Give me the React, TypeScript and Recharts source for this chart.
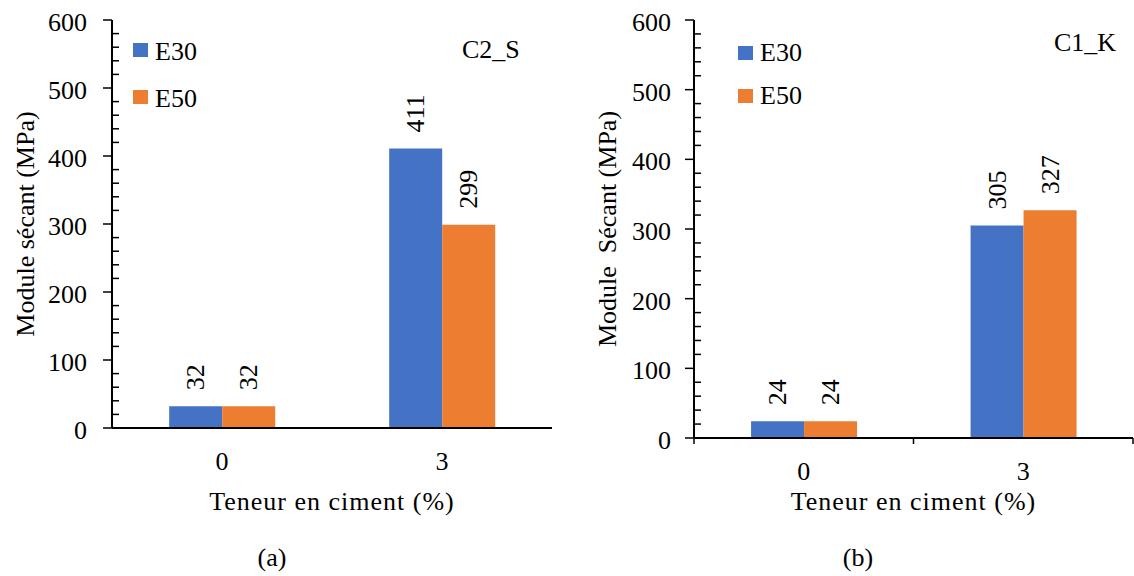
import React from 'react';
import {
  BarChart,
  Bar,
  XAxis,
  YAxis,
  Legend,
  LabelList,
} from 'recharts';

// categories on the x axis (cement content, %)
const categories = ['0', '3'];

// (a) C2_S
const c2sE30 = [32, 411];
const c2sE50 = [32, 299];

// (b) C1_K
const c1kE30 = [24, 305];
const c1kE50 = [24, 327];

const yTicks = [0, 20, 40, 60, 80, 100, 120, 140, 160, 180, 200, 220, 240, 260, 280, 300,
  320, 340, 360, 380, 400, 420, 440, 460, 480, 500, 520, 540, 560, 580, 600];

const BLUE = '#4472C4';
const ORANGE = '#ED7D31';
const FONT = "'Liberation Serif', 'Times New Roman', serif";
const FS = 26;
const H = 576;
const TOP = 20;
const X_TICK_MARGIN = 24;

const buildData = (e30: number[], e50: number[]) =>
  categories.map((cat, i) => ({ cat, E30: e30[i], E50: e50[i] }));

// rotated value label above each bar
const RotLabel = (props: any) => {
  const { x, y, width, value } = props;
  const cx = Number(x) + Number(width) / 2;
  const ty = Number(y) - 16;
  return (
    <text
      x={cx}
      y={ty}
      transform={`rotate(-90 ${cx} ${ty})`}
      textAnchor="start"
      dominantBaseline="central"
      fontSize={FS}
      fontFamily={FONT}
      fill="#000"
    >
      {value}
    </text>
  );
};

// major ticks outside with label, minor ticks inside
const makeYTick = (gap: number) => (props: any) => {
  const { x, y, payload } = props;
  const axisX = x + 9 + gap;
  if (payload.value % 100 !== 0) {
    return <line x1={axisX} x2={axisX + 7} y1={y} y2={y} stroke="#000" strokeWidth={1.5} />;
  }
  return (
    <g>
      <line x1={axisX - 9} x2={axisX} y1={y} y2={y} stroke="#000" strokeWidth={1.5} />
      <text x={x} y={y} dy={11} textAnchor="end" fontSize={FS} fontFamily={FONT} fill="#000">
        {payload.value}
      </text>
    </g>
  );
};

const makeXTick = (marks: boolean, band: number) => (props: any) => {
  const { x, y, payload, index } = props;
  const axisY = y - X_TICK_MARGIN;
  return (
    <g>
      {marks && (
        <line x1={x - band / 2} x2={x - band / 2} y1={axisY} y2={axisY + 6} stroke="#000" strokeWidth={1.5} />
      )}
      {marks && index === categories.length - 1 && (
        <line x1={x + band / 2} x2={x + band / 2} y1={axisY} y2={axisY + 6} stroke="#000" strokeWidth={1.5} />
      )}
      <text x={x} y={y} dy={18} textAnchor="middle" fontSize={FS} fontFamily={FONT} fill="#000">
        {payload.value}
      </text>
    </g>
  );
};

const makeLegend = (rowH: number, textTop: number) => (props: any) => {
  const { payload } = props;
  return (
    <div style={{ fontFamily: FONT, fontSize: FS }}>
      {(payload || []).map((p: any) => (
        <div key={p.value} style={{ position: 'relative', height: rowH, width: 80 }}>
          <span style={{ position: 'absolute', left: 0, top: 0, width: 15, height: 14, background: p.color }} />
          <span style={{ position: 'absolute', left: 22, top: textTop, lineHeight: '26px', color: '#000' }}>
            {p.value}
          </span>
        </div>
      ))}
    </div>
  );
};

interface PanelProps {
  left: number;
  width: number;
  yAxisWidth: number;
  marginRight: number;
  plotBottom: number;
  e30: number[];
  e50: number[];
  yLabel: string;
  yLabelDx: number;
  yTickGap: number;
  xTickMarks: boolean;
  legendLeft: number;
  legendTop: number;
  legendRow: number;
  legendTextTop: number;
  tag: string;
  tagLeft: number;
  tagBaseline: number;
  caption: string;
  captionCenter: number;
}

const Panel = (p: PanelProps) => {
  const data = buildData(p.e30, p.e50);
  const plotW = p.width - p.yAxisWidth - p.marginRight;
  const band = plotW / categories.length;
  const axisStyle = { stroke: '#000', strokeWidth: 2 };
  return (
    <div style={{ position: 'absolute', left: p.left, top: 0, width: p.width, height: H }}>
      <BarChart
        width={p.width}
        height={H}
        data={data}
        margin={{ top: TOP, right: p.marginRight, bottom: 0, left: 0 }}
        barCategoryGap="26%"
        barGap={0}
      >
        <XAxis
          dataKey="cat"
          height={H - p.plotBottom}
          axisLine={axisStyle}
          tickLine={false}
          tickSize={0}
          tickMargin={X_TICK_MARGIN}
          interval={0}
          tick={makeXTick(p.xTickMarks, band)}
          label={{
            value: 'Teneur en ciment (%)',
            position: 'insideBottom',
            offset: H - 510,
            fontSize: FS,
            fontFamily: FONT,
            letterSpacing: 1,
            fill: '#000',
          }}
        />
        <XAxis xAxisId="top" dataKey="cat" orientation="top" height={0} tick={false} tickLine={false} axisLine={axisStyle} />
        <YAxis
          width={p.yAxisWidth}
          domain={[0, 600]}
          ticks={yTicks}
          interval={0}
          axisLine={axisStyle}
          tickLine={false}
          tickSize={9}
          tickMargin={p.yTickGap}
          tick={makeYTick(p.yTickGap)}
          label={{
            value: p.yLabel,
            angle: -90,
            position: 'center',
            dx: p.yLabelDx,
            fontSize: FS,
            fontFamily: FONT,
            fill: '#000',
          }}
        />
        <YAxis yAxisId="right" orientation="right" width={0} domain={[0, 600]} tick={false} tickLine={false} axisLine={axisStyle} />
        <Legend
          layout="vertical"
          align="center"
          verticalAlign="middle"
          wrapperStyle={{ left: p.legendLeft, top: p.legendTop, width: 'auto' }}
          content={makeLegend(p.legendRow, p.legendTextTop)}
        />
        <Bar dataKey="E30" name="E30" fill={BLUE} isAnimationActive={false}>
          <LabelList dataKey="E30" content={RotLabel} />
        </Bar>
        <Bar dataKey="E50" name="E50" fill={ORANGE} isAnimationActive={false}>
          <LabelList dataKey="E50" content={RotLabel} />
        </Bar>
      </BarChart>
      <div
        style={{
          position: 'absolute',
          left: p.tagLeft,
          top: p.tagBaseline - 21.8,
          fontFamily: FONT,
          fontSize: FS,
          lineHeight: '26px',
          color: '#000',
          whiteSpace: 'nowrap',
        }}
      >
        {p.tag}
      </div>
      <div
        style={{
          position: 'absolute',
          left: p.captionCenter - 40,
          width: 80,
          textAlign: 'center',
          top: 567 - 21.8,
          fontFamily: FONT,
          fontSize: FS,
          lineHeight: '26px',
          color: '#000',
        }}
      >
        {p.caption}
      </div>
    </div>
  );
};

export default function App() {
  return (
    <div style={{ position: 'absolute', left: 0, top: 0, width: 1134, height: H, background: '#fff' }}>
      <Panel
        left={0}
        width={560}
        yAxisWidth={112}
        marginRight={8}
        plotBottom={428}
        e30={c2sE30}
        e50={c2sE50}
        yLabel="Module sécant (MPa)"
        yLabelDx={-31}
        yTickGap={16}
        xTickMarks={false}
        legendLeft={133}
        legendTop={43}
        legendRow={47}
        legendTextTop={-4}
        tag="C2_S"
        tagLeft={462}
        tagBaseline={59}
        caption="(a)"
        captionCenter={272}
      />
      <Panel
        left={580}
        width={554}
        yAxisWidth={114}
        marginRight={1}
        plotBottom={438}
        e30={c1kE30}
        e50={c1kE50}
        yLabel={'Module\u00A0 Sécant (MPa)'}
        yLabelDx={-30}
        yTickGap={14}
        xTickMarks={true}
        legendLeft={158}
        legendTop={46}
        legendRow={43}
        legendTextTop={-6}
        tag="C1_K"
        tagLeft={474}
        tagBaseline={52}
        caption="(b)"
        captionCenter={278}
      />
    </div>
  );
}
